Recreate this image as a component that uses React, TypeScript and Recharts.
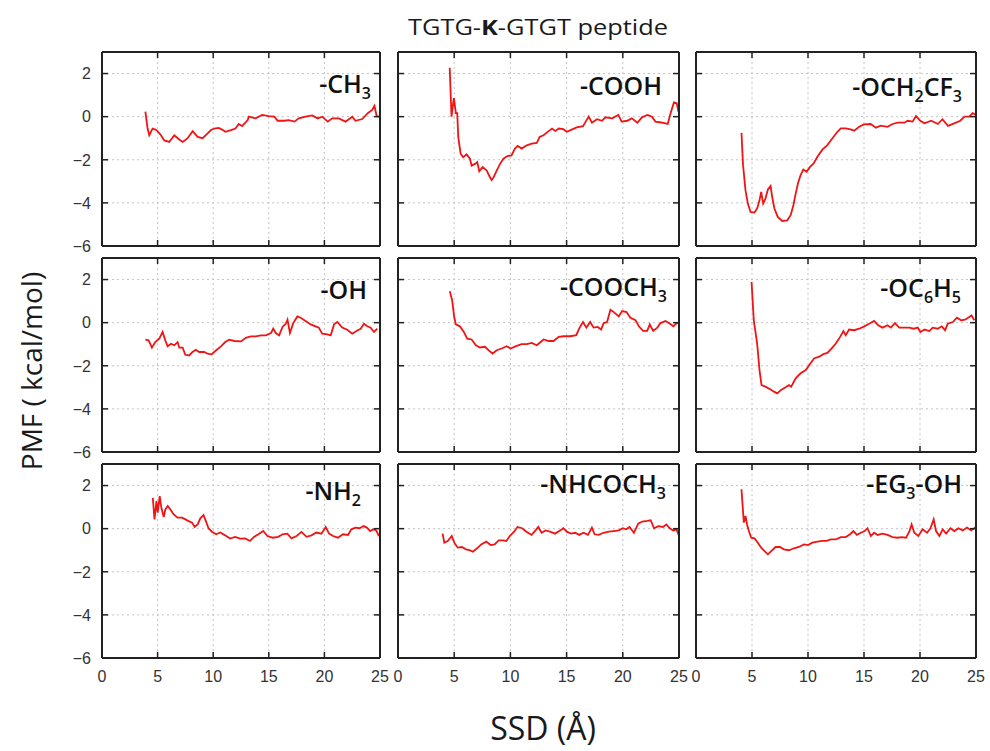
import React from 'react';
import { LineChart, Line, XAxis, YAxis, CartesianGrid } from 'recharts';

// ---------- tick values ----------
const X_TICKS = [0, 5, 10, 15, 20, 25];
const Y_TICKS = [-6, -4, -2, 0, 2];

// ---------- series (SSD in Å, PMF in kcal/mol) ----------
const pmfCH3: [number, number][] = [
  [3.9, 0.23], [4.1, -0.55], [4.25, -0.86], [4.55, -0.55], [4.8, -0.6], [5.0, -0.67], [5.3, -0.86], [5.6, -1.1],
  [6.05, -1.17], [6.3, -1.0], [6.5, -0.86], [6.95, -1.06], [7.25, -1.17], [7.5, -1.08], [7.7, -1.0], [8.15, -0.67],
  [8.6, -0.94], [9.05, -1.0], [9.5, -0.78], [9.8, -0.62], [10.1, -0.55], [10.5, -0.52], [10.8, -0.6], [11.1, -0.7],
  [11.6, -0.62], [12.0, -0.55], [12.3, -0.34], [12.6, -0.44], [13.1, -0.16], [13.2, 0.0], [13.8, -0.08], [14.4, 0.08],
  [15.0, 0.03], [15.5, 0.0], [15.8, -0.19], [16.4, -0.19], [16.8, -0.16], [17.3, -0.23], [17.7, -0.08], [18.3, 0.0],
  [18.9, 0.06], [19.4, -0.08], [19.8, 0.0], [20.3, -0.23], [20.7, -0.08], [21.3, -0.08], [21.9, -0.23], [22.5, 0.0],
  [22.8, -0.19], [23.4, -0.11], [23.9, 0.16], [24.3, 0.31], [24.5, 0.5], [24.7, 0.03], [24.9, 0.0],
];

const pmfCOOH: [number, number][] = [
  [4.6, 2.27], [4.76, 0.0], [4.97, 0.86], [5.15, 0.16], [5.27, 0.16], [5.36, -0.94], [5.57, -1.72], [5.8, -1.88],
  [6.1, -1.75], [6.4, -1.95], [6.55, -2.27], [6.85, -2.19], [7.05, -2.11], [7.23, -2.53], [7.53, -2.34], [7.9, -2.5],
  [8.1, -2.73], [8.33, -2.94], [8.48, -2.84], [8.78, -2.5], [9.08, -2.19], [9.38, -1.95], [9.73, -1.83], [10.1, -1.8],
  [10.4, -1.48], [10.65, -1.36], [11.0, -1.48], [11.46, -1.33], [11.9, -1.25], [12.35, -1.22], [12.6, -0.94],
  [12.95, -0.86], [13.4, -0.67], [13.7, -0.55], [14.0, -0.66], [14.3, -0.55], [14.7, -0.58], [15.03, -0.7],
  [15.5, -0.59], [15.9, -0.5], [16.46, -0.44], [16.7, -0.23], [16.96, 0.0], [17.26, -0.28], [17.7, -0.12],
  [18.15, -0.19], [18.45, -0.03], [19.05, -0.08], [19.6, 0.08], [19.9, -0.23], [20.4, -0.19], [20.8, -0.08],
  [21.3, -0.28], [21.7, -0.03], [22.2, 0.08], [22.6, 0.0], [22.9, -0.23], [23.4, -0.27], [24.0, -0.34],
  [24.25, 0.16], [24.55, 0.66], [24.8, 0.62], [24.95, 0.23],
];

const pmfOCH2CF3: [number, number][] = [
  [4.06, -0.75], [4.2, -2.25], [4.42, -3.42], [4.63, -4.03], [4.87, -4.42], [5.22, -4.45], [5.46, -4.26],
  [5.67, -3.88], [5.82, -3.49], [6.0, -4.03], [6.2, -3.8], [6.42, -3.38], [6.66, -3.22], [6.8, -3.72], [7.0, -4.26],
  [7.3, -4.65], [7.7, -4.84], [8.15, -4.81], [8.45, -4.57], [8.7, -4.1], [8.9, -3.57], [9.1, -3.1], [9.34, -2.71],
  [9.58, -2.45], [9.88, -2.56], [10.18, -2.33], [10.5, -2.17], [10.84, -1.86], [11.3, -1.52], [11.73, -1.32],
  [12.18, -1.0], [12.63, -0.7], [12.93, -0.54], [13.37, -0.54], [13.8, -0.59], [14.12, -0.65], [14.57, -0.47],
  [15.0, -0.36], [15.6, -0.34], [16.06, -0.51], [16.5, -0.42], [17.1, -0.47], [17.55, -0.34], [18.0, -0.28],
  [18.6, -0.28], [18.9, -0.19], [19.34, -0.23], [19.64, 0.03], [20.03, -0.19], [20.4, -0.31], [21.0, -0.19],
  [21.6, -0.34], [22.0, -0.12], [22.5, -0.43], [23.05, -0.31], [23.6, -0.19], [23.97, 0.0], [24.4, 0.0],
  [24.7, 0.16], [25.0, 0.08],
];

const pmfOH: [number, number][] = [
  [3.9, -0.79], [4.19, -0.82], [4.49, -1.16], [4.79, -0.9], [5.15, -0.74], [5.45, -0.43], [5.69, -0.82], [5.9, -1.1],
  [6.2, -0.98], [6.5, -1.05], [6.8, -0.9], [6.95, -1.16], [7.25, -1.16], [7.49, -1.49], [7.84, -1.52], [8.14, -1.36],
  [8.44, -1.26], [8.74, -1.36], [9.19, -1.36], [9.49, -1.44], [9.85, -1.47], [10.24, -1.29], [10.7, -1.1],
  [11.08, -0.9], [11.44, -0.79], [11.9, -0.85], [12.5, -0.87], [12.93, -0.7], [13.4, -0.64], [13.83, -0.64],
  [14.3, -0.59], [14.73, -0.59], [15.2, -0.48], [15.4, -0.28], [15.63, -0.48], [15.93, -0.59], [16.23, -0.2],
  [16.53, -0.05], [16.68, 0.14], [16.9, -0.48], [17.2, -0.02], [17.57, 0.29], [17.87, 0.23], [18.3, 0.08],
  [18.77, -0.08], [19.2, -0.17], [19.5, -0.23], [19.8, -0.51], [20.27, -0.54], [20.57, -0.59], [20.87, -0.08],
  [21.17, 0.03], [21.6, -0.23], [22.06, -0.33], [22.5, -0.51], [22.96, -0.36], [23.26, -0.28], [23.56, -0.05],
  [23.86, -0.17], [24.16, -0.23], [24.46, -0.43], [24.76, -0.28],
];

const pmfCOOCH3: [number, number][] = [
  [4.61, 1.46], [4.82, 1.03], [5.0, 0.26], [5.15, -0.08], [5.5, -0.17], [5.86, -0.43], [6.16, -0.74], [6.55, -0.78],
  [6.93, -1.05], [7.29, -1.15], [7.74, -1.12], [8.12, -1.31], [8.42, -1.43], [8.78, -1.28], [9.22, -1.2],
  [9.67, -1.09], [10.03, -1.2], [10.5, -1.09], [11.0, -1.0], [11.46, -1.0], [11.9, -0.94], [12.35, -1.05],
  [12.95, -0.78], [13.4, -0.85], [13.84, -0.85], [14.3, -0.66], [14.73, -0.63], [15.33, -0.63], [15.86, -0.58],
  [16.16, -0.23], [16.46, 0.03], [16.76, -0.23], [17.1, 0.03], [17.4, -0.23], [17.77, -0.2], [18.07, -0.32],
  [18.3, -0.02], [18.6, 0.03], [18.9, 0.6], [19.2, 0.49], [19.64, 0.29], [19.94, 0.54], [20.33, 0.49],
  [20.68, 0.23], [21.13, 0.11], [21.43, -0.17], [21.8, -0.38], [22.17, -0.38], [22.4, -0.08], [22.7, -0.38],
  [23.07, -0.23], [23.36, -0.02], [23.8, 0.08], [24.2, -0.05], [24.5, -0.17], [24.8, -0.02], [25.0, -0.02],
];

const pmfOC6H5: [number, number][] = [
  [4.96, 1.89], [5.16, 0.11], [5.46, -0.97], [5.67, -2.2], [5.85, -2.9], [6.2, -2.97], [6.66, -3.1], [6.96, -3.2],
  [7.25, -3.28], [7.6, -3.12], [8.0, -3.0], [8.3, -2.9], [8.5, -2.97], [8.9, -2.58], [9.34, -2.35], [9.8, -2.2],
  [10.18, -1.92], [10.54, -1.66], [11.0, -1.58], [11.37, -1.46], [11.73, -1.4], [12.1, -1.2], [12.48, -0.97],
  [12.87, -0.66], [13.16, -0.39], [13.37, -0.58], [13.67, -0.32], [14.12, -0.35], [14.57, -0.28], [15.03, -0.17],
  [15.46, -0.05], [15.9, 0.08], [16.27, -0.12], [16.66, -0.23], [17.1, -0.12], [17.4, -0.23], [17.76, -0.02],
  [18.15, -0.23], [18.6, -0.23], [19.05, -0.23], [19.43, -0.28], [19.8, -0.23], [20.03, -0.43], [20.4, -0.32],
  [20.84, -0.39], [21.13, -0.23], [21.58, -0.28], [21.94, -0.17], [22.24, -0.35], [22.48, -0.05], [22.93, 0.03],
  [23.3, 0.23], [23.67, 0.11], [24.03, 0.14], [24.4, 0.26], [24.6, 0.34], [24.85, 0.11],
];

const pmfNH2: [number, number][] = [
  [4.57, 1.43], [4.72, 0.43], [4.9, 1.28], [5.01, 0.74], [5.19, 1.51], [5.34, 0.97], [5.55, 0.54], [5.7, 0.89],
  [5.91, 1.05], [6.15, 0.89], [6.45, 0.66], [6.8, 0.51], [7.2, 0.51], [7.5, 0.43], [7.8, 0.35], [8.1, 0.28],
  [8.33, 0.08], [8.6, 0.2], [8.84, 0.48], [9.13, 0.63], [9.34, 0.35], [9.58, 0.02], [9.88, -0.14], [10.27, -0.26],
  [10.63, -0.18], [11.07, -0.31], [11.52, -0.46], [11.97, -0.38], [12.42, -0.46], [12.87, -0.45], [13.31, -0.57],
  [13.67, -0.38], [14.06, -0.26], [14.5, -0.11], [14.87, -0.34], [15.34, -0.42], [15.85, -0.38], [16.24, -0.26],
  [16.66, -0.23], [17.04, -0.45], [17.5, -0.34], [17.94, -0.15], [18.39, -0.38], [18.84, -0.31], [19.28, -0.18],
  [19.73, -0.23], [20.12, 0.08], [20.42, -0.23], [20.78, -0.34], [21.22, -0.42], [21.67, -0.26], [22.12, -0.29],
  [22.42, -0.03], [22.8, 0.05], [23.16, 0.02], [23.52, 0.12], [23.82, 0.05], [24.12, -0.11], [24.42, -0.03],
  [24.66, -0.08], [24.9, -0.34],
];

const pmfNHCOCH3: [number, number][] = [
  [3.97, -0.23], [4.12, -0.65], [4.42, -0.57], [4.78, -0.34], [5.01, -0.65], [5.31, -0.88], [5.67, -0.85],
  [6.06, -0.96], [6.36, -1.0], [6.66, -1.07], [7.04, -0.91], [7.4, -0.73], [7.85, -0.6], [8.24, -0.76], [8.6, -0.73],
  [8.96, -0.54], [9.34, -0.54], [9.64, -0.57], [9.94, -0.34], [10.33, -0.14], [10.63, 0.08], [11.04, 0.02],
  [11.43, -0.14], [11.88, -0.29], [12.24, -0.08], [12.48, 0.08], [12.78, -0.19], [13.13, -0.08], [13.52, -0.14],
  [13.97, -0.23], [14.42, -0.08], [14.72, 0.02], [15.01, -0.14], [15.4, -0.23], [15.76, -0.19], [16.12, -0.29],
  [16.5, -0.19], [16.9, -0.29], [17.25, 0.05], [17.49, -0.26], [17.85, -0.29], [18.3, -0.19], [18.75, -0.14],
  [19.19, -0.11], [19.64, -0.08], [20.0, 0.02], [20.3, -0.03], [20.6, 0.08], [20.99, -0.19], [21.37, 0.23],
  [21.73, 0.33], [22.18, 0.36], [22.48, 0.39], [22.78, 0.02], [23.16, 0.12], [23.58, 0.08], [23.88, 0.2],
  [24.18, 0.02], [24.48, -0.08], [24.78, -0.03], [25.0, -0.34],
];

const pmfEG3OH: [number, number][] = [
  [4.06, 1.83], [4.27, 0.28], [4.42, 0.59], [4.57, 0.17], [4.72, -0.11], [4.93, -0.42], [5.22, -0.45], [5.52, -0.65],
  [5.82, -0.88], [6.12, -1.04], [6.42, -1.19], [6.72, -1.04], [7.1, -0.85], [7.49, -0.85], [7.85, -0.96], [8.3, -1.0],
  [8.75, -0.91], [9.19, -0.85], [9.64, -0.73], [10.0, -0.76], [10.39, -0.65], [10.84, -0.6], [11.28, -0.57],
  [11.67, -0.57], [12.03, -0.5], [12.48, -0.5], [12.93, -0.39], [13.37, -0.39], [13.76, -0.26], [14.06, -0.11],
  [14.36, -0.29], [14.72, -0.19], [15.07, -0.11], [15.31, 0.02], [15.61, -0.34], [15.91, -0.19], [16.21, -0.29],
  [16.66, -0.23], [17.1, -0.29], [17.55, -0.39], [18.0, -0.42], [18.36, -0.39], [18.75, -0.42], [19.04, -0.14],
  [19.25, 0.2], [19.49, -0.19], [19.85, -0.34], [20.24, -0.03], [20.63, -0.19], [20.93, 0.02], [21.22, 0.43],
  [21.43, -0.11], [21.73, -0.34], [22.03, -0.03], [22.33, -0.23], [22.72, 0.02], [23.07, -0.11], [23.43, 0.02],
  [23.82, -0.08], [24.2, 0.05], [24.57, -0.08], [25.0, 0.08],
];

// ---------- panel labels (text, subscript flag) ----------
type Part = [string, boolean];
const labelCH3: Part[] = [['-CH', false], ['3', true]];
const labelCOOH: Part[] = [['-COOH', false]];
const labelOCH2CF3: Part[] = [['-OCH', false], ['2', true], ['CF', false], ['3', true]];
const labelOH: Part[] = [['-OH', false]];
const labelCOOCH3: Part[] = [['-COOCH', false], ['3', true]];
const labelOC6H5: Part[] = [['-OC', false], ['6', true], ['H', false], ['5', true]];
const labelNH2: Part[] = [['-NH', false], ['2', true]];
const labelNHCOCH3: Part[] = [['-NHCOCH', false], ['3', true]];
const labelEG3OH: Part[] = [['-EG', false], ['3', true], ['-OH', false]];

const TITLE_PARTS: Part[] = [['TGTG-', false], ['K', true], ['-GTGT peptide', false]];
const X_TITLE = 'SSD (Å)';
const Y_TITLE = 'PMF ( kcal/mol)';

// ---------- layout ----------
const COL_X = [102, 398, 696];
const COL_W = [278, 281, 280];
const ROW_Y = [52, 258, 464];
const PLOT_H = 194;

const PANELS = [
  { data: pmfCH3, label: labelCH3, row: 0, col: 0, lx: 371, ly: 93 },
  { data: pmfCOOH, label: labelCOOH, row: 0, col: 1, lx: 662, ly: 95 },
  { data: pmfOCH2CF3, label: labelOCH2CF3, row: 0, col: 2, lx: 962, ly: 96 },
  { data: pmfOH, label: labelOH, row: 1, col: 0, lx: 367, ly: 299 },
  { data: pmfCOOCH3, label: labelCOOCH3, row: 1, col: 1, lx: 667, ly: 296 },
  { data: pmfOC6H5, label: labelOC6H5, row: 1, col: 2, lx: 961, ly: 297 },
  { data: pmfNH2, label: labelNH2, row: 2, col: 0, lx: 361, ly: 500 },
  { data: pmfNHCOCH3, label: labelNHCOCH3, row: 2, col: 1, lx: 666, ly: 493 },
  { data: pmfEG3OH, label: labelEG3OH, row: 2, col: 2, lx: 962, ly: 493 },
];

const AXIS_COLOR = '#222';
const LINE_COLOR = '#f01414';
const TICK_TEXT = { fill: '#333', fontSize: 16, fontFamily: '"Liberation Sans", Arial, sans-serif' };
const TICK_LEN = 6;
const fmtMinus = (v: number) => String(v).replace('-', '\u2212');

type Orient = 'bottom' | 'top' | 'left' | 'right';

// Tick renderer: draws an inward tick mark at the axis coordinate, plus the label if wanted.
function makeTick(orient: Orient, margin: number, showLabel: boolean) {
  return (props: any) => {
    const { x, y, payload } = props;
    const v = payload?.value;
    let x1 = x, x2 = x, y1 = y, y2 = y;
    if (orient === 'bottom') { y1 = y - margin; y2 = y1 - TICK_LEN; }
    if (orient === 'top') { y1 = y + margin; y2 = y1 + TICK_LEN; }
    if (orient === 'left') { x1 = x + margin; x2 = x1 + TICK_LEN; }
    if (orient === 'right') { x1 = x - margin; x2 = x1 - TICK_LEN; }
    return (
      <g>
        <line x1={x1} y1={y1} x2={x2} y2={y2} stroke={AXIS_COLOR} strokeWidth={1.5} />
        {showLabel && orient === 'bottom' && (
          <text x={x} y={y} dy="0.72em" textAnchor="middle" {...TICK_TEXT}>{fmtMinus(v)}</text>
        )}
        {showLabel && orient === 'left' && (
          <text x={x} y={y} dy="0.36em" textAnchor="end" {...TICK_TEXT}>{fmtMinus(v)}</text>
        )}
      </g>
    );
  };
}

function Panel({ data, row, col }: { data: [number, number][]; row: number; col: number }) {
  const showX = row === 2;
  const showY = col === 0;
  const rows = data.map(([x, y]) => ({ x, y }));
  const L = 40, T = 10, R = 10, B = 30;
  const axisLine = { stroke: AXIS_COLOR, strokeWidth: 2 };
  return (
    <div style={{ position: 'absolute', left: COL_X[col] - L, top: ROW_Y[row] - T }}>
      <LineChart
        width={COL_W[col] + L + R}
        height={PLOT_H + T + B}
        data={rows}
        margin={{ top: T - 1, right: R - 1, bottom: 0, left: 0 }}
      >
        <CartesianGrid strokeDasharray="2 3" stroke="#c4c4c4" strokeWidth={1} />
        <XAxis
          dataKey="x" type="number" domain={[0, 25]} ticks={X_TICKS} interval={0} allowDataOverflow
          height={B} tickSize={0} tickMargin={12} axisLine={axisLine} tickLine={false}
          tick={makeTick('bottom', 12, showX)}
        />
        <XAxis
          xAxisId="top" orientation="top" dataKey="x" type="number" domain={[0, 25]} ticks={X_TICKS} interval={0}
          allowDataOverflow height={1} tickSize={0} tickMargin={0} axisLine={axisLine} tickLine={false}
          tick={makeTick('top', 0, false)}
        />
        <YAxis
          type="number" domain={[-6, 3]} ticks={Y_TICKS} interval={0} allowDataOverflow
          width={L} tickSize={0} tickMargin={11} axisLine={axisLine} tickLine={false}
          tick={makeTick('left', 11, showY)}
        />
        <YAxis
          yAxisId="right" orientation="right" type="number" domain={[-6, 3]} ticks={Y_TICKS} interval={0}
          allowDataOverflow width={1} tickSize={0} tickMargin={0} axisLine={axisLine} tickLine={false}
          tick={makeTick('right', 0, false)}
        />
        <Line
          dataKey="y" type="linear" stroke={LINE_COLOR} strokeWidth={1.8} dot={false}
          isAnimationActive={false}
        />
      </LineChart>
    </div>
  );
}

function PanelLabel({ parts, x, y }: { parts: Part[]; x: number; y: number }) {
  return (
    <text x={x} y={y} textAnchor="end" fontFamily='"Open Sans", sans-serif' fontSize={25} fontWeight={600} fill="#111">
      {parts.map(([t, sub], i) =>
        sub ? (
          <tspan key={i} fontSize={16} dy={6}>{t}</tspan>
        ) : (
          <tspan key={i} dy={i > 0 && parts[i - 1][1] ? -6 : 0}>{t}</tspan>
        ),
      )}
    </text>
  );
}

export default function App() {
  return (
    <div style={{ position: 'absolute', left: 0, top: 0, width: 990, height: 751, background: '#fff', overflow: 'hidden' }}>
      {PANELS.map((p, i) => (
        <Panel key={i} data={p.data} row={p.row} col={p.col} />
      ))}
      <svg width={990} height={751} style={{ position: 'absolute', left: 0, top: 0, pointerEvents: 'none' }}>
        <text x={538} y={35} textAnchor="middle" fontFamily='"Open Sans", sans-serif' fontSize={22} fill="#1a1a1a"
          textLength={260} lengthAdjust="spacingAndGlyphs">
          {TITLE_PARTS.map(([t, bold], i) => (
            <tspan key={i} fontWeight={bold ? 700 : 400}>{t}</tspan>
          ))}
        </text>
        {PANELS.map((p, i) => (
          <PanelLabel key={i} parts={p.label} x={p.lx} y={p.ly} />
        ))}
        <text x={543} y={740} textAnchor="middle" fontFamily='"Open Sans", sans-serif' fontSize={32} fill="#1a1a1a">
          {X_TITLE}
        </text>
        <text transform="rotate(-90)" x={-371} y={42} textAnchor="middle" fontFamily='"Open Sans", sans-serif'
          fontSize={28} fill="#1a1a1a">
          {Y_TITLE}
        </text>
      </svg>
    </div>
  );
}
